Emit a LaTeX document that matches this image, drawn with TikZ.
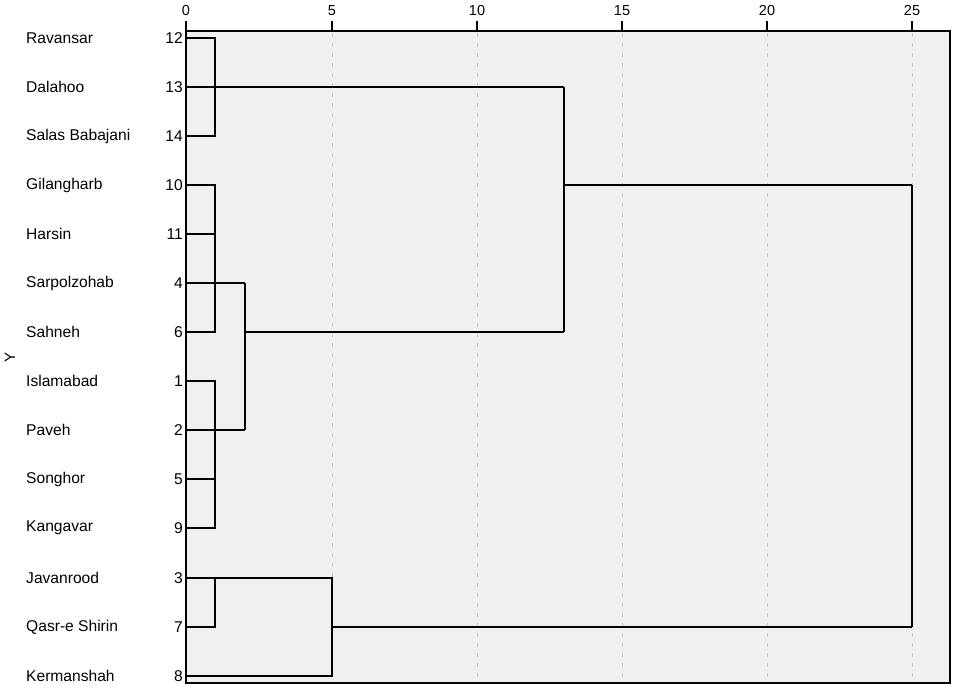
\documentclass[tikz,border=0pt]{standalone}
\usepackage{fontspec}
\setmainfont{Liberation Sans}
\begin{document}
\begin{tikzpicture}[x=1pt,y=-1pt,
  rowname/.style={anchor=west,inner sep=0pt,font=\fontsize{15.6}{18}\selectfont},
  rownum/.style={anchor=east,inner sep=0pt,font=\fontsize{15.6}{18}\selectfont},
  ticklab/.style={anchor=center,inner sep=0pt,font=\fontsize{14.5}{17}\selectfont},
  dline/.style={black,line width=2.1pt,line join=miter},
  gridline/.style={draw=black!22,line width=1pt,dash pattern=on 4pt off 6pt},
  frame/.style={draw=black,line width=1.2pt,fill=black!6}]
\useasboundingbox (0,0) rectangle (957,689);
\fill[white] (0,0) rectangle (957,689);
% frame
\path[frame] (186,31) rectangle (950,683);
% x positions
\def\xa{215}\def\xb{245}\def\xe{332}\def\xm{564}\def\xz{912}
% grid
\foreach \v/\xx in {5/332,10/477,15/622,20/767,25/912}{
  \draw[gridline] (\xx,33) -- (\xx,682);
}
\foreach \v/\xx in {0/186,5/332,10/477,15/622,20/767,25/912}{
  \draw[black,line width=1.2pt] (\xx,31) -- (\xx,21);
  \node[ticklab] (t\v) at (\xx,10.5) {\v};
}
% Y label
\node[rotate=90,inner sep=0pt,font=\fontsize{15}{17}\selectfont] (ylab) at (10,357) {Y};
% rows
\foreach \id/\nm/\yy in {12/Ravansar/38,13/Dalahoo/87,14/Salas Babajani/136,10/Gilangharb/185,11/Harsin/234,4/Sarpolzohab/283,6/Sahneh/332,1/Islamabad/381,2/Paveh/430,5/Songhor/479,9/Kangavar/528,3/Javanrood/578,7/Qasr-e Shirin/627,8/Kermanshah/676}{
  \node[rowname] (n\id) at (26,\yy) {\nm};
  \node[rownum] (k\id) at (183,\yy) {\id};
  \coordinate (l\id) at (186,\yy);
}
% cluster A: 12,13,14
\coordinate (a1) at (\xa,38);
\coordinate (a2) at (\xa,136);
\coordinate (p13) at (\xm,87);
\draw[dline] (l12) -- (a1) -- (a2) -- (l14);
\draw[dline] (l13) -- (p13);
% cluster B: 10,11,4,6
\coordinate (b1) at (\xa,185);
\coordinate (b2) at (\xa,332);
\coordinate (b3) at (\xa,234);
\coordinate (q4) at (\xb,283);
\draw[dline] (l10) -- (b1) -- (b2) -- (l6);
\draw[dline] (l11) -- (b3);
\draw[dline] (l4) -- (q4);
% cluster C: 1,2,5,9
\coordinate (c1) at (\xa,381);
\coordinate (c2) at (\xa,528);
\coordinate (c3) at (\xa,479);
\coordinate (q2) at (\xb,430);
\draw[dline] (l1) -- (c1) -- (c2) -- (l9);
\draw[dline] (l5) -- (c3);
\draw[dline] (l2) -- (q2);
% B+C at 2
\coordinate (q6) at (\xb,332);
\coordinate (p6) at (\xm,332);
\draw[dline] (q4) -- (q2);
\draw[dline] (q6) -- (p6);
% A+BC at 13
\coordinate (p10) at (\xm,185);
\coordinate (r1) at (\xz,185);
\draw[dline] (p13) -- (p6);
\draw[dline] (p10) -- (r1);
% cluster D: 3,7,8
\coordinate (d1) at (\xa,578);
\coordinate (d2) at (\xa,627);
\coordinate (s3) at (\xe,578);
\coordinate (s8) at (\xe,676);
\coordinate (s7) at (\xe,627);
\coordinate (r2) at (\xz,627);
\draw[dline] (l3) -- (s3) -- (s8) -- (l8);
\draw[dline] (d1) -- (d2) -- (l7);
\draw[dline] (s7) -- (r2);
% root at 25
\draw[dline] (r1) -- (r2);
\end{tikzpicture}
\end{document}
